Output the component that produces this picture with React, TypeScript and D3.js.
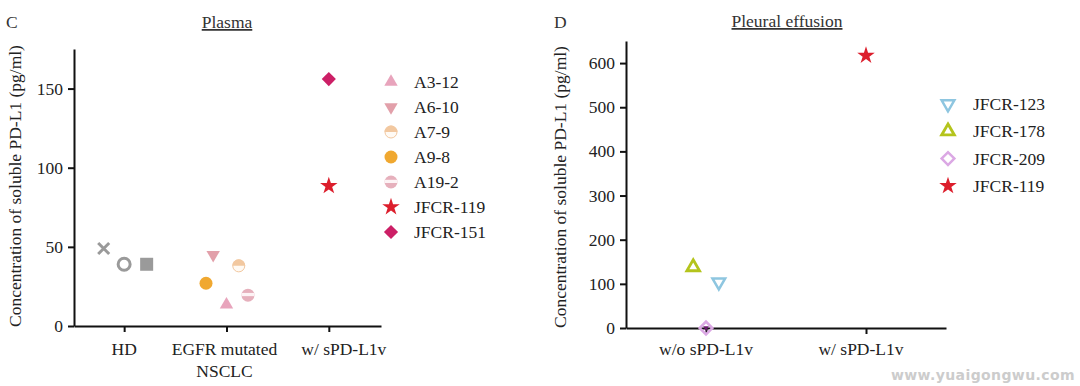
import React, { useEffect, useRef } from "react";
import * as d3 from "d3";

// ---------- Data ----------
const plasmaCategories = ["HD", "EGFR mutated\nNSCLC", "w/ sPD-L1v"];
const plasmaYTicks = [0, 50, 100, 150];

// each point: name, category index, jitter (category units), value, marker kind
const plasmaHD = [
  { name: "HD-1", cat: 0, jitter: -0.2, value: 49, kind: "x" },
  { name: "HD-2", cat: 0, jitter: 0.0, value: 39, kind: "ocircle" },
  { name: "HD-3", cat: 0, jitter: 0.22, value: 39, kind: "square" },
];
const plasmaEGFR = [
  { name: "A3-12", cat: 1, jitter: 0.0, value: 13.5, kind: "tri" },
  { name: "A6-10", cat: 1, jitter: -0.13, value: 45, kind: "tridown" },
  { name: "A7-9", cat: 1, jitter: 0.12, value: 38, kind: "halfTop" },
  { name: "A9-8", cat: 1, jitter: -0.2, value: 27, kind: "circle" },
  { name: "A19-2", cat: 1, jitter: 0.21, value: 19.5, kind: "halfBand" },
];
const plasmaSPD = [
  { name: "JFCR-119", cat: 2, jitter: 0, value: 88.5, kind: "star" },
  { name: "JFCR-151", cat: 2, jitter: 0, value: 156, kind: "diamond" },
];
const plasmaLegend = ["A3-12", "A6-10", "A7-9", "A9-8", "A19-2", "JFCR-119", "JFCR-151"];

const pleuralCategories = ["w/o sPD-L1v", "w/ sPD-L1v"];
const pleuralYTicks = [0, 100, 200, 300, 400, 500, 600];
const pleuralPoints = [
  { name: "JFCR-123", cat: 0, jitter: 0.08, value: 104, kind: "otridown" },
  { name: "JFCR-178", cat: 0, jitter: -0.08, value: 138, kind: "otri" },
  { name: "JFCR-209", cat: 0, jitter: 0.0, value: 0, kind: "odiamond" },
  { name: "JFCR-119", cat: 1, jitter: 0, value: 617, kind: "star" },
];
const pleuralLegend = ["JFCR-123", "JFCR-178", "JFCR-209", "JFCR-119"];

const colors: Record<string, string> = {
  "HD-1": "#9a9a9a",
  "HD-2": "#9a9a9a",
  "HD-3": "#9a9a9a",
  "A3-12": "#e8a4bc",
  "A6-10": "#e2a0aa",
  "A7-9": "#f2c8a0",
  "A9-8": "#f0a830",
  "A19-2": "#e6b0bc",
  "JFCR-119": "#dc1e2c",
  "JFCR-151": "#cc1f66",
  "JFCR-123": "#8ec6e0",
  "JFCR-178": "#b4c41c",
  "JFCR-209": "#dba8e4",
};

const FONT = "Liberation Serif, DejaVu Serif, serif";
const FS = 17.5;

function drawMarker(g: any, kind: string, color: string) {
  const tri = d3.symbol().type(d3.symbolTriangle).size(78)();
  const star = d3.symbol().type(d3.symbolStar).size(95)();
  const r = 6.5;
  switch (kind) {
    case "x":
      g.append("path")
        .attr("d", "M-5.5,-5.5L5.5,5.5M-5.5,5.5L5.5,-5.5")
        .attr("stroke", color)
        .attr("stroke-width", 3)
        .attr("fill", "none");
      break;
    case "ocircle":
      g.append("circle").attr("r", 6).attr("fill", "none").attr("stroke", color).attr("stroke-width", 3);
      break;
    case "square":
      g.append("rect").attr("x", -6.5).attr("y", -6.5).attr("width", 13).attr("height", 13).attr("fill", color);
      break;
    case "circle":
      g.append("circle").attr("r", r).attr("fill", color);
      break;
    case "tri":
      g.append("path").attr("d", tri).attr("fill", color);
      break;
    case "tridown":
      g.append("path").attr("d", tri).attr("transform", "rotate(180)").attr("fill", color);
      break;
    case "halfTop":
      g.append("circle").attr("r", r - 0.5).attr("fill", "#fffaf4").attr("stroke", color).attr("stroke-width", 1);
      g.append("path").attr("d", `M${-r},0A${r},${r} 0 0 1 ${r},0Z`).attr("fill", color);
      break;
    case "halfBand":
      g.append("circle").attr("r", r).attr("fill", color);
      g.append("rect").attr("x", -r).attr("y", -2.2).attr("width", 2 * r).attr("height", 3.2).attr("fill", "#fdf3f5");
      break;
    case "star":
      g.append("path").attr("d", star).attr("fill", color);
      break;
    case "diamond":
      g.append("rect").attr("x", -5).attr("y", -5).attr("width", 10).attr("height", 10)
        .attr("transform", "rotate(45)").attr("fill", color);
      break;
    case "otri":
      g.append("path").attr("d", d3.symbol().type(d3.symbolTriangle).size(70)())
        .attr("fill", "none").attr("stroke", color).attr("stroke-width", 2.8);
      break;
    case "otridown":
      g.append("path").attr("d", d3.symbol().type(d3.symbolTriangle).size(70)())
        .attr("transform", "rotate(180)")
        .attr("fill", "none").attr("stroke", color).attr("stroke-width", 2.5);
      break;
    case "odiamond":
      g.append("rect").attr("x", -4.5).attr("y", -4.5).attr("width", 9).attr("height", 9)
        .attr("transform", "rotate(45)").attr("fill", "none").attr("stroke", color).attr("stroke-width", 2.5);
      break;
  }
}

export default function App() {
  const ref = useRef<SVGSVGElement | null>(null);

  useEffect(() => {
    const svg = d3.select(ref.current);
    svg.selectAll("*").remove();
    svg.append("rect").attr("width", 1080).attr("height", 386).attr("fill", "#ffffff");

    const styleAxis = (ax: any) => {
      ax.selectAll("path").attr("stroke", "#111").attr("stroke-width", 2);
      ax.selectAll("line").attr("stroke", "#111").attr("stroke-width", 2);
      ax.selectAll("text").attr("font-family", FONT).attr("font-size", FS).attr("fill", "#222");
    };

    // ================= Panel C: Plasma =================
    const xL = d3.scaleLinear().domain([-0.49, 2.51]).range([74, 381]);
    const yL = d3.scaleLinear().domain([0, 175]).range([326, 49]);

    const gL = svg.append("g");
    const yAxL = gL.append("g").attr("transform", `translate(74,0)`)
      .call(d3.axisLeft(yL).tickValues(plasmaYTicks).tickSize(6).tickSizeOuter(0).tickPadding(5));
    styleAxis(yAxL);
    const xAxL = gL.append("g").attr("transform", `translate(0,326)`)
      .call(d3.axisBottom(xL).tickValues([0, 1, 2]).tickSize(6).tickSizeOuter(0).tickFormat(() => ""));
    styleAxis(xAxL);

    const labelNudge = [0, -2, 15];
    plasmaCategories.forEach((c, i) => {
      const lines = c.split("\n");
      const cx = xL(i) + labelNudge[i];
      const t = gL.append("text").attr("x", cx).attr("y", 355)
        .attr("text-anchor", "middle").attr("font-family", FONT).attr("font-size", FS).attr("fill", "#222");
      lines.forEach((ln, j) => {
        t.append("tspan").attr("x", cx).attr("dy", j === 0 ? 0 : 22).text(ln);
      });
    });

    gL.append("text").attr("x", 227).attr("y", 28).attr("text-anchor", "middle")
      .attr("font-family", FONT).attr("font-size", FS).attr("fill", "#333")
      .attr("text-decoration", "underline").text("Plasma");
    gL.append("text").attr("x", 6).attr("y", 28).attr("font-family", FONT)
      .attr("font-size", FS).attr("fill", "#333").text("C");
    gL.append("text").attr("transform", `translate(21,186) rotate(-90)`).attr("text-anchor", "middle")
      .attr("font-family", FONT).attr("font-size", FS).attr("fill", "#222")
      .text("Concentration of soluble PD-L1 (pg/ml)");

    [...plasmaHD, ...plasmaEGFR, ...plasmaSPD].forEach((p) => {
      const g = gL.append("g").attr("transform", `translate(${xL(p.cat + p.jitter)},${yL(p.value)})`);
      drawMarker(g, p.kind, colors[p.name]);
    });

    const allPlasma = [...plasmaEGFR, ...plasmaSPD];
    plasmaLegend.forEach((name, i) => {
      const p = allPlasma.find((d) => d.name === name)!;
      const y = 82 + i * 25;
      const g = gL.append("g").attr("transform", `translate(391,${y})`);
      drawMarker(g, p.kind, colors[name]);
      gL.append("text").attr("x", 414).attr("y", y).attr("dy", "0.35em")
        .attr("font-family", FONT).attr("font-size", FS).attr("fill", "#222").text(name);
    });

    // ================= Panel D: Pleural effusion =================
    const xR = d3.scaleLinear().domain([-0.5, 1.5]).range([626, 946]);
    const yR = d3.scaleLinear().domain([0, 650]).range([328, 41]);

    const gR = svg.append("g");
    const yAxR = gR.append("g").attr("transform", `translate(626,0)`)
      .call(d3.axisLeft(yR).tickValues(pleuralYTicks).tickSize(6).tickSizeOuter(0).tickPadding(5));
    styleAxis(yAxR);
    const xAxR = gR.append("g").attr("transform", `translate(0,328)`)
      .call(d3.axisBottom(xR).tickValues([0, 1]).tickSize(6).tickSizeOuter(0).tickFormat(() => ""));
    styleAxis(xAxR);

    const labelNudgeR = [0, -5];
    pleuralCategories.forEach((c, i) => {
      gR.append("text").attr("x", xR(i) + labelNudgeR[i]).attr("y", 355).attr("text-anchor", "middle")
        .attr("font-family", FONT).attr("font-size", FS).attr("fill", "#222").text(c);
    });

    gR.append("text").attr("x", 787).attr("y", 27).attr("text-anchor", "middle")
      .attr("font-family", FONT).attr("font-size", FS).attr("fill", "#333")
      .attr("text-decoration", "underline").text("Pleural effusion");
    gR.append("text").attr("x", 554).attr("y", 28).attr("font-family", FONT)
      .attr("font-size", FS).attr("fill", "#333").text("D");
    gR.append("text").attr("transform", `translate(566,187) rotate(-90)`).attr("text-anchor", "middle")
      .attr("font-family", FONT).attr("font-size", FS).attr("fill", "#222")
      .text("Concentration of soluble PD-L1 (pg/ml)");

    pleuralPoints.forEach((p) => {
      const g = gR.append("g").attr("transform", `translate(${xR(p.cat + p.jitter)},${yR(p.value)})`);
      drawMarker(g, p.kind, colors[p.name]);
      if (p.kind === "odiamond") {
        g.append("path").attr("d", d3.symbol().type(d3.symbolTriangle).size(14)())
          .attr("transform", "rotate(180)").attr("fill", "#6a1a70");
      }
    });

    pleuralLegend.forEach((name, i) => {
      const p = pleuralPoints.find((d) => d.name === name)!;
      const y = 104 + i * 27.3;
      const g = gR.append("g").attr("transform", `translate(948,${y})`);
      drawMarker(g, p.kind, colors[name]);
      gR.append("text").attr("x", 973).attr("y", y).attr("dy", "0.35em")
        .attr("font-family", FONT).attr("font-size", FS).attr("fill", "#222").text(name);
    });

    // watermark
    svg.append("text").attr("x", 1075).attr("y", 380).attr("text-anchor", "end")
      .attr("font-family", "DejaVu Sans, sans-serif").attr("font-weight", "bold")
      .attr("font-size", 14).attr("letter-spacing", 0.4).attr("fill", "#cccccc")
      .text("www.yuaigongwu.com");
  }, []);

  return (
    <svg
      ref={ref}
      width={1080}
      height={386}
      style={{ position: "absolute", left: 0, top: 0, display: "block" }}
    />
  );
}
